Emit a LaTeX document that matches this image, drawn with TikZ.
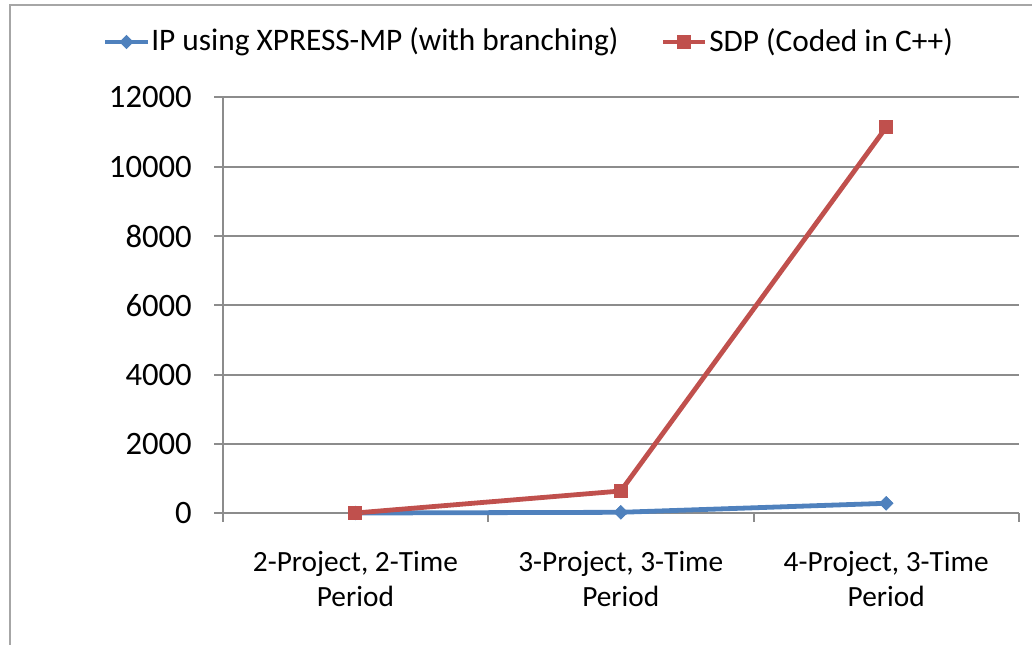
\documentclass[tikz,border=0pt]{standalone}
\usepackage{fontspec}
\setmainfont{Carlito}
\usetikzlibrary{shapes.geometric}
\definecolor{ipblue}{HTML}{4F81BD}
\definecolor{sdpred}{HTML}{C0504D}
\definecolor{gridgray}{HTML}{8C8C8C}
\definecolor{framegray}{HTML}{A6A6A6}
\tikzset{
  lbl/.style={font=\fontsize{22}{26.25}\selectfont, inner sep=0pt, text=black},
  vallbl/.style={lbl, font=\fontsize{24.5}{28}\selectfont},
  keylbl/.style={lbl, font=\fontsize{23.5}{28}\selectfont},
  grid line/.style={draw=gridgray, line width=1.4pt},
  ipline/.style={draw=ipblue, line width=3.6pt},
  sdpline/.style={draw=sdpred, line width=3.6pt},
  ipmark/.style={diamond, fill=ipblue, draw=none, minimum width=11pt, minimum height=11pt, inner sep=0pt},
  sdpmark/.style={rectangle, fill=sdpred, draw=none, minimum size=10.5pt, inner sep=0pt},
}
\begin{document}
\begin{tikzpicture}[x=0.75pt, y=-0.75pt]
\useasboundingbox (0,0) rectangle (1032,645);
% outer frame of the chart area
\draw[framegray, line width=1.2pt] (10,645) -- (10,5) -- (1032,5);

% horizontal gridlines and value labels
\foreach \v [count=\i from 0] in {0,2000,4000,6000,8000,10000,12000} {
  \draw[grid line] (214,{513.3-69.33*\i}) -- (1019,{513.3-69.33*\i});
  \node[vallbl, anchor=east] (ylab\i) at (192,{513.3-69.33*\i}) {\v};
}
% value axis
\draw[grid line] (222.7,97.3) -- (222.7,513.3);
% category ticks
\foreach \x in {222.7,488.2,753.6,1019} {
  \draw[grid line] (\x,513.3) -- (\x,522);
}

% category labels
\node[lbl, align=center] (cat1) at (355.4,579.5) {2-Project, 2-Time\\Period};
\node[lbl, align=center] (cat2) at (620.8,579.5) {3-Project, 3-Time\\Period};
\node[lbl, align=center] (cat3) at (886.2,579.5) {4-Project, 3-Time\\Period};

% data points: IP using XPRESS-MP (values 0, 30, 290)
\node[ipmark] (ip1) at (355.4,513.0) {};
\node[ipmark] (ip2) at (620.8,512.3) {};
\node[ipmark] (ip3) at (886.2,503.3) {};
% data points: SDP (values 10, 640, 11135)
\node[sdpmark] (sdp1) at (355.4,513.0) {};
\node[sdpmark] (sdp2) at (620.8,491.0) {};
\node[sdpmark] (sdp3) at (886.2,127.3) {};

% series lines
\draw[ipline] (ip1.center) -- (ip2.center) -- (ip3.center);
\draw[sdpline] (sdp1.center) -- (sdp2.center) -- (sdp3.center);
% markers on top of lines
\node[ipmark] at (ip1) {};
\node[ipmark] at (ip2) {};
\node[ipmark] at (ip3) {};
\node[sdpmark] at (sdp1) {};
\node[sdpmark] at (sdp2) {};
\node[sdpmark] at (sdp3) {};

% legend
\coordinate (ipkeyA) at (105,42);
\coordinate (ipkeyB) at (148,42);
\draw[ipline] (ipkeyA) -- (ipkeyB);
\node[ipmark] (ipkey) at (126.5,42) {};
\node[keylbl, anchor=west] (iptext) at (151,42) {IP using XPRESS-MP (with branching)};
\coordinate (sdpkeyA) at (663,42);
\coordinate (sdpkeyB) at (705,42);
\draw[sdpline] (sdpkeyA) -- (sdpkeyB);
\node[sdpmark] (sdpkey) at (684,42) {};
\node[keylbl, anchor=west] (sdptext) at (709,42) {SDP (Coded in C++)};
\end{tikzpicture}
\end{document}
